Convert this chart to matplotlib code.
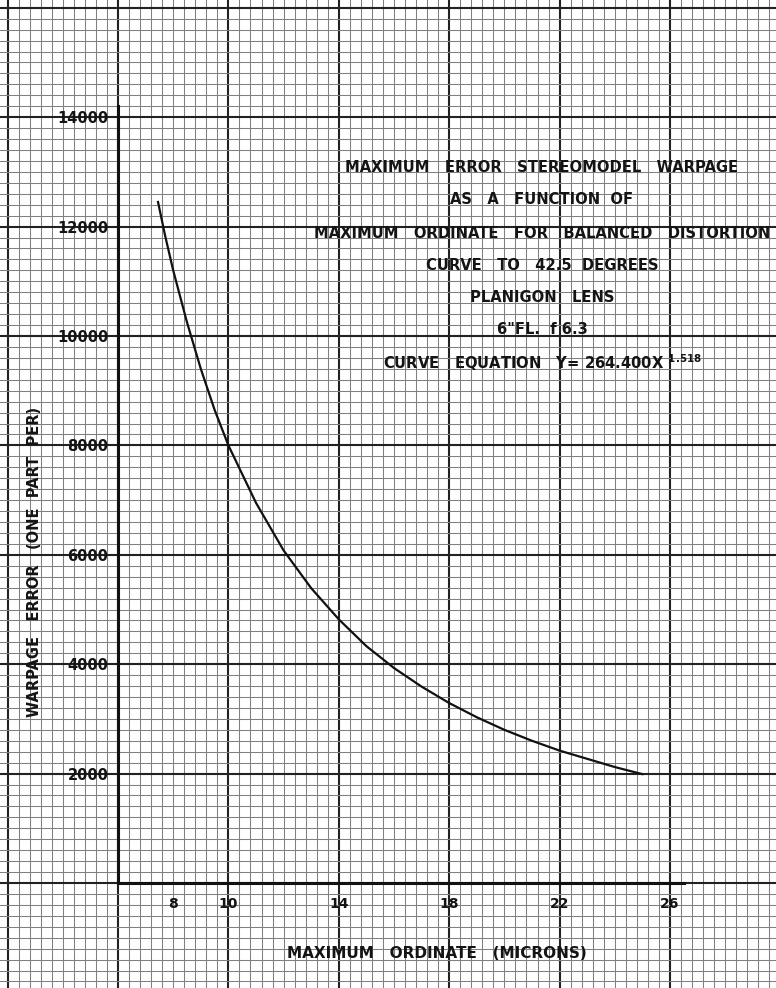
import numpy as np
import matplotlib.pyplot as plt
from matplotlib.ticker import MultipleLocator

# Values (maximum ordinate in microns vs warpage error)
ordinate = [7.45, 7.7, 8.0, 8.5, 9.0, 9.5, 10.0, 11.0, 12.0, 13.0, 14.0, 15.0,
            16.0, 17.0, 18.0, 19.0, 20.0, 21.0, 22.0, 23.0, 24.0, 25.0]
warpage = [12450, 11850, 11200, 10250, 9400, 8650, 8000, 6950, 6080, 5390, 4820, 4330,
           3930, 3590, 3290, 3030, 2800, 2600, 2420, 2270, 2120, 1990]

x_ticks = [8, 10, 14, 18, 22, 26]
y_ticks = [2000, 4000, 6000, 8000, 10000, 12000, 14000]

title_lines = ["MAXIMUM   ERROR   STEREOMODEL   WARPAGE",
               "AS   A   FUNCTION  OF",
               "MAXIMUM   ORDINATE   FOR   BALANCED   DISTORTION",
               "CURVE   TO   42.5  DEGREES",
               "PLANIGON   LENS",
               "6\"FL.  f 6.3",
               r"CURVE   EQUATION   Y= 264.400X $^{\mathbf{1.518}}$"]
title_rows = [167, 200, 233, 266, 298, 330, 363]  # pixel rows of the lettering

# pixel scale of the graph paper
W, H = 776, 988
x0_px, y0_px = 118, 883          # origin (x=6, y=0)
px_x = 27.6                      # pixels per micron
px_y = 0.0547                    # pixels per unit of warpage
x_org = 6

fig = plt.figure(figsize=(W / 100, H / 100), dpi=100)

# graph paper in the background
paper = fig.add_axes([0, 0, 1, 1])
paper.set_xlim(x_org - x0_px / px_x, x_org + (W - x0_px) / px_x)
paper.set_ylim(-(H - y0_px) / px_y, y0_px / px_y)
paper.xaxis.set_major_locator(MultipleLocator(4, offset=2))
paper.xaxis.set_minor_locator(MultipleLocator(0.4))
paper.yaxis.set_major_locator(MultipleLocator(2000))
paper.yaxis.set_minor_locator(MultipleLocator(200))
paper.grid(which='minor', color='#808080', lw=0.75)
paper.grid(which='major', color='#222222', lw=1.5)
paper.tick_params(which='both', length=0, labelbottom=False, labelleft=False)
for s in paper.spines.values():
    s.set_visible(False)

# the chart itself
x_top, y_top = 26.5, 14200
ax = fig.add_axes([x0_px / W, (H - y0_px) / H,
                   (x_top - x_org) * px_x / W, y_top * px_y / H])
ax.set_facecolor('none')
ax.set_xlim(x_org, x_top)
ax.set_ylim(0, y_top)
ax.plot(ordinate, warpage, color='#111111', lw=1.6)

for s in ['top', 'right']:
    ax.spines[s].set_visible(False)
for s in ['left', 'bottom']:
    ax.spines[s].set_linewidth(2.2)
    ax.spines[s].set_color('#111111')

font = dict(family='DejaVu Sans', weight='bold', color='#141414')
ax.set_xticks(x_ticks)
ax.set_xticklabels([str(v) for v in x_ticks], fontsize=10, **font)
ax.set_yticks(y_ticks)
ax.set_yticklabels([str(v) for v in y_ticks], fontsize=10.5, **font)
ax.tick_params(length=0)
ax.tick_params(axis='x', pad=10)
ax.tick_params(axis='y', pad=7)

fig.text(437 / W, 1 - 953 / H, "MAXIMUM   ORDINATE   (MICRONS)", ha='center', va='center',
         fontsize=11, **font)
fig.text(35 / W, 1 - 562 / H, "WARPAGE   ERROR   (ONE  PART  PER)", ha='center', va='center',
         rotation=90, fontsize=10.5, **font)

for line, row in zip(title_lines, title_rows):
    fig.text(542 / W, 1 - row / H, line, ha='center', va='center', fontsize=10.6, **font)

fig.savefig('out.png', dpi=100, facecolor='white')
